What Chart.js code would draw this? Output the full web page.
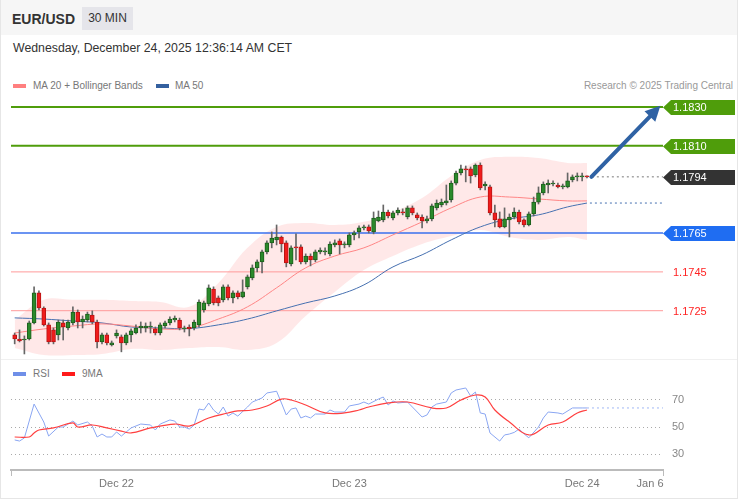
<!DOCTYPE html>
<html>
<head>
<meta charset="utf-8">
<script src="https://cdn.jsdelivr.net/npm/chart.js@4.4.1/dist/chart.umd.min.js"></script>
<style>
  body { margin: 0; background: #fff; font-family: "Liberation Sans", Arial, sans-serif; }
  #wrap { position: relative; width: 738px; height: 500px; overflow: hidden; background: #fff; }
  .abs { position: absolute; white-space: nowrap; }
  #head { left: 0; top: 0; width: 738px; height: 35px; background: #f6f6f6; }
  #pair { left: 12px; top: 12px; font-weight: bold; font-size: 14px; line-height: 14px; color: #333; }
  #tf { left: 82px; top: 7px; width: 51px; height: 23px; background: #e5e5ea; font-size: 12px; line-height: 23px; text-align: center; color: #333; }
  #date { left: 13px; top: 41px; font-size: 12.3px; line-height: 14px; color: #333; }
  .leg { font-size: 10px; line-height: 12px; color: #777; }
  .sw { position: absolute; width: 13px; height: 4px; }
  #sep { left: 0; top: 359px; width: 738px; height: 1px; background: #f0f0f0; }
  #frame { left: 0; top: 0; width: 738px; height: 499px; box-sizing: border-box; border: 1px solid #e6e6e6; border-top: none; pointer-events: none; }
  canvas { position: absolute; left: 0; }
</style>
</head>
<body>
<div id="wrap">
  <div id="head" class="abs"></div>
  <div id="pair" class="abs">EUR/USD</div>
  <div id="tf" class="abs">30 MIN</div>
  <div id="date" class="abs">Wednesday, December 24, 2025 12:36:14 AM CET</div>

  <div class="sw" style="left:13px;top:84px;background:#ff7f7f"></div>
  <div class="abs leg" style="left:33px;top:80px">MA 20 + Bollinger Bands</div>
  <div class="sw" style="left:156px;top:84px;background:#34609f"></div>
  <div class="abs leg" style="left:175px;top:80px">MA 50</div>
  <div class="abs leg" style="right:5px;top:80px;color:#999">Research © 2025 Trading Central</div>

  <canvas id="price" width="738" height="263" style="top:95px"></canvas>

  <div id="sep" class="abs"></div>
  <div class="sw" style="left:13px;top:372px;background:#6f8fe8"></div>
  <div class="abs leg" style="left:33px;top:368px">RSI</div>
  <div class="sw" style="left:62px;top:372px;background:#ff1a1a"></div>
  <div class="abs leg" style="left:82px;top:368px">9MA</div>

  <canvas id="rsi" width="738" height="112" style="top:385px"></canvas>
  <div id="frame" class="abs"></div>
</div>

<script>
// x axis is the candle index (30 min bars), padded on the right for the projection
const X_MIN = -0.76, X_MAX = 133.67;

const openP = [1.17125,1.17104,1.17099,1.17104,1.17187,1.17342,1.17264,1.17177,1.17151,1.17125,
  1.17187,1.17161,1.17187,1.17243,1.17192,1.17202,1.17228,1.17192,1.17089,1.17125,
  1.17074,1.17120,1.17115,1.17084,1.17125,1.17135,1.17161,1.17161,1.17166,1.17156,
  1.17135,1.17171,1.17187,1.17202,1.17202,1.17156,1.17166,1.17161,1.17177,1.17254,
  1.17285,1.17362,1.17316,1.17306,1.17373,1.17316,1.17342,1.17321,1.17373,1.17419,
  1.17471,1.17502,1.17553,1.17600,1.17615,1.17630,1.17600,1.17491,1.17579,1.17579,
  1.17502,1.17532,1.17512,1.17553,1.17553,1.17543,1.17589,1.17610,1.17589,1.17589,
  1.17641,1.17656,1.17677,1.17682,1.17656,1.17713,1.17718,1.17759,1.17728,1.17754,
  1.17759,1.17733,1.17780,1.17744,1.17733,1.17713,1.17723,1.17780,1.17795,1.17805,
  1.17821,1.17908,1.17960,1.17981,1.17981,1.17950,1.18001,1.17893,1.17888,1.17754,
  1.17723,1.17682,1.17718,1.17733,1.17759,1.17718,1.17692,1.17749,1.17810,1.17857,
  1.17898,1.17903,1.17898,1.17888,1.17888,1.17924,1.17940,1.17940,1.17945];
const highP = [1.17135,1.17151,1.17120,1.17197,1.17373,1.17352,1.17270,1.17187,1.17161,1.17202,
  1.17202,1.17202,1.17270,1.17254,1.17223,1.17243,1.17249,1.17202,1.17135,1.17135,
  1.17094,1.17151,1.17125,1.17135,1.17156,1.17177,1.17192,1.17187,1.17192,1.17166,
  1.17187,1.17197,1.17218,1.17223,1.17212,1.17171,1.17177,1.17202,1.17306,1.17300,
  1.17383,1.17373,1.17326,1.17383,1.17383,1.17352,1.17352,1.17409,1.17434,1.17486,
  1.17512,1.17563,1.17610,1.17656,1.17692,1.17635,1.17610,1.17584,1.17646,1.17589,
  1.17543,1.17543,1.17563,1.17574,1.17574,1.17605,1.17615,1.17620,1.17605,1.17651,
  1.17661,1.17687,1.17692,1.17692,1.17759,1.17764,1.17795,1.17769,1.17764,1.17780,
  1.17775,1.17790,1.17790,1.17754,1.17744,1.17738,1.17800,1.17821,1.17826,1.17898,
  1.17919,1.17970,1.18001,1.17996,1.17991,1.18007,1.18012,1.17914,1.17898,1.17795,
  1.17759,1.17780,1.17749,1.17780,1.17769,1.17723,1.17759,1.17836,1.17888,1.17914,
  1.17924,1.17919,1.17908,1.17903,1.17960,1.17950,1.17960,1.17960,1.17945];
const lowP = [1.17079,1.17089,1.17027,1.17099,1.17182,1.17254,1.17171,1.17079,1.17079,1.17099,
  1.17099,1.17151,1.17177,1.17161,1.17161,1.17192,1.17182,1.17058,1.17079,1.17074,
  1.17068,1.17109,1.17038,1.17074,1.17089,1.17130,1.17135,1.17140,1.17135,1.17125,
  1.17125,1.17161,1.17177,1.17192,1.17151,1.17140,1.17120,1.17151,1.17166,1.17243,
  1.17275,1.17280,1.17275,1.17295,1.17306,1.17290,1.17311,1.17316,1.17362,1.17409,
  1.17450,1.17445,1.17543,1.17574,1.17589,1.17553,1.17476,1.17481,1.17512,1.17491,
  1.17491,1.17481,1.17502,1.17543,1.17538,1.17532,1.17579,1.17543,1.17574,1.17579,
  1.17615,1.17625,1.17666,1.17651,1.17646,1.17708,1.17708,1.17728,1.17718,1.17744,
  1.17744,1.17723,1.17744,1.17718,1.17677,1.17702,1.17713,1.17769,1.17785,1.17795,
  1.17810,1.17898,1.17950,1.17914,1.17908,1.17940,1.17873,1.17873,1.17744,1.17682,
  1.17677,1.17677,1.17630,1.17723,1.17697,1.17682,1.17687,1.17738,1.17800,1.17847,
  1.17857,1.17893,1.17883,1.17878,1.17883,1.17914,1.17919,1.17919,1.17934];
const closeP = [1.17104,1.17094,1.17104,1.17187,1.17342,1.17264,1.17177,1.17089,1.17089,1.17192,
  1.17166,1.17192,1.17243,1.17192,1.17207,1.17233,1.17192,1.17089,1.17125,1.17084,
  1.17084,1.17135,1.17084,1.17125,1.17146,1.17161,1.17171,1.17171,1.17171,1.17135,
  1.17177,1.17187,1.17207,1.17212,1.17161,1.17161,1.17156,1.17192,1.17295,1.17290,
  1.17368,1.17290,1.17290,1.17373,1.17316,1.17342,1.17321,1.17347,1.17424,1.17471,
  1.17502,1.17553,1.17600,1.17625,1.17630,1.17594,1.17496,1.17574,1.17574,1.17502,
  1.17532,1.17512,1.17553,1.17563,1.17558,1.17594,1.17600,1.17589,1.17594,1.17641,
  1.17651,1.17677,1.17682,1.17661,1.17728,1.17733,1.17759,1.17738,1.17754,1.17769,
  1.17754,1.17780,1.17754,1.17728,1.17713,1.17723,1.17790,1.17805,1.17810,1.17816,
  1.17908,1.17960,1.17981,1.17976,1.17945,1.18001,1.17883,1.17903,1.17754,1.17718,
  1.17682,1.17723,1.17733,1.17759,1.17708,1.17692,1.17749,1.17810,1.17857,1.17903,
  1.17908,1.17908,1.17888,1.17893,1.17919,1.17940,1.17943,1.17945,1.17940];

// indicators every 6 bars
const maIdx = [0,6,12,18,24,30,36,42,48,54,60,66,72,78,84,90,96,102,108,114,118];
const ma20 = [1.17135,1.17156,1.17171,1.17182,1.17171,1.17156,1.17161,1.17207,1.17270,1.17368,
  1.17471,1.17532,1.17574,1.17641,1.17708,1.17780,1.17836,1.17836,1.17826,1.17816,1.17816];
const bbUpper = [1.17202,1.17306,1.17306,1.17306,1.17300,1.17295,1.17270,1.17393,1.17574,1.17682,
  1.17702,1.17692,1.17708,1.17759,1.17831,1.17945,1.18027,1.18043,1.18037,1.18012,1.18012];
const bbLower = [1.17058,1.17022,1.17022,1.17027,1.17053,1.17048,1.17058,1.17063,1.17048,1.17084,
  1.17223,1.17347,1.17460,1.17532,1.17594,1.17635,1.17666,1.17630,1.17615,1.17630,1.17615];
const ma50 = [1.17213,1.17207,1.17197,1.17187,1.17166,1.17161,1.17158,1.17177,1.17207,1.17249,
  1.17290,1.17326,1.17383,1.17476,1.17538,1.17615,1.17682,1.17723,1.17744,1.17785,1.17805];

const levels = [1.1830, 1.1810, 1.1765, 1.1745, 1.1725];
const lastPrice = 1.1794;
const arrowX = [118.9, 131.4];
const arrowY = [1.1794, 1.18262];

const rsiIdx = [0,1,2,4,6,7,9,10,12,13,15,16,17,18,19,20,21,22,23,24,26,28,29,30,32,33,34,35,36,37,
  38,39,40,41,42,43,44,45,46,48,49,51,52,54,55,56,57,58,59,60,61,62,64,65,66,68,69,71,72,73,
  75,76,77,78,79,81,82,83,84,85,86,87,89,90,91,93,94,95,96,97,98,100,101,102,103,104,105,106,108,109,
  110,112,113,115,117,118];
const rsiVal = [40.4,39.6,41.9,67,53.7,43.3,50,50,54.4,51.5,53.7,50.7,42.6,44.8,42.6,42.6,46.3,43.3,46.3,49.3,
  52.2,51.5,47.8,52.2,55.2,54.4,50,50,48.5,51.5,63.3,62.6,67.8,62.6,59.6,64.8,58.1,60.4,58.1,64.8,
  68.5,71.5,75.2,76.5,67.8,58.9,63.3,64.1,56.7,58.1,56.7,59.6,59.6,62.6,61.1,61.1,65.6,67,68.5,67,
  70.7,72.2,66.3,69.3,67.8,68.5,64.8,61.1,57.4,58.9,64.8,67,68.5,75.2,77.4,78.9,73,75.9,60.4,59.6,
  45.6,39.6,44.1,44.8,46,48.5,45,42,50,56.7,61.1,60.4,59.6,64.1,64.1,64.1];
const ma9Idx = [0,3,4,5,8,12,13,16,19,22,24,28,33,36,40,44,46,49,52,55,
  57,60,64,68,71,73,77,81,86,89,92,95,97,99,102,106,110,113,116,118];
const ma9Val = [42.6,42.6,45.6,47.8,49.3,53,50,51.5,49.3,47,45.6,49.3,52.2,50.7,56.7,60.4,61.9,62.6,65.6,70.7,
  70,66.3,60.4,60.4,62.6,64.8,67.8,68.5,64.1,64.1,70,73.7,72.2,62.6,53.7,44.1,51.5,53.7,60.4,62.6];

const dayTicks = [21, 69, 117, 131];
const dayLabels = ['Dec 22', 'Dec 23', 'Dec 24', 'Jan 6'];
const rsiTicks = [30, 50, 70];

// styles
const levelStyle = [
  { line: '#4f9d0b', width: 2, tag: '#4f9d0b' },
  { line: '#4f9d0b', width: 2, tag: '#4f9d0b' },
  { line: '#3a70ee', width: 1.5, tag: '#1f6df2' },
  { line: '#ff9a9a', width: 1, tag: null, text: '#ff2222' },
  { line: '#ff9a9a', width: 1, tag: null, text: '#ff2222' }
];
const FONT = '"Liberation Sans", Arial, sans-serif';
Chart.defaults.font.family = FONT;

const pts = (xs, ys) => xs.map((x, i) => ({ x: x, y: ys[i] }));
const flat = (x0, v) => [{ x: x0, y: v }, { x: X_MAX, y: v }];
const isUp = closeP.map((c, i) => c >= openP[i]);

const tagsPlugin = {
  id: 'tags',
  afterDraw(chart) {
    const ctx = chart.ctx, sy = chart.scales.y, r = chart.chartArea.right;
    const tags = levels.map((v, i) => ({ v: v, fill: levelStyle[i].tag, text: levelStyle[i].text }));
    tags.push({ v: lastPrice, fill: '#333333' });
    ctx.save();
    ctx.font = '11px ' + FONT;
    ctx.textBaseline = 'middle';
    tags.forEach(t => {
      const y = Math.round(sy.getPixelForValue(t.v)) + 0.5;
      if (t.fill) {
        ctx.fillStyle = t.fill;
        ctx.beginPath();
        ctx.moveTo(r, y);
        ctx.lineTo(r + 8, y - 7.5);
        ctx.lineTo(735, y - 7.5);
        ctx.lineTo(735, y + 7.5);
        ctx.lineTo(r + 8, y + 7.5);
        ctx.closePath();
        ctx.fill();
        ctx.fillStyle = '#fff';
      } else {
        ctx.fillStyle = t.text;
      }
      ctx.fillText(t.v.toFixed(4), r + 10, y);
    });
    ctx.restore();
  }
};

const arrowPlugin = {
  id: 'arrowHead',
  afterDatasetsDraw(chart) {
    const meta = chart.getDatasetMeta(chart.data.datasets.findIndex(d => d.label === 'arrow'));
    const a = meta.data[0], b = meta.data[1];
    const dx = b.x - a.x, dy = b.y - a.y, len = Math.hypot(dx, dy);
    const ux = dx / len, uy = dy / len, nx = -uy, ny = ux;
    const ctx = chart.ctx;
    ctx.save();
    ctx.fillStyle = '#2f62a4';
    ctx.beginPath();
    ctx.moveTo(b.x + ux * 12, b.y + uy * 12);
    ctx.lineTo(b.x - ux * 3 + nx * 7.5, b.y - uy * 3 + ny * 7.5);
    ctx.lineTo(b.x - ux * 3 - nx * 7.5, b.y - uy * 3 - ny * 7.5);
    ctx.closePath();
    ctx.fill();
    ctx.restore();
  }
};

const lineBase = { type: 'line', pointRadius: 0, fill: false };
const priceSets = [
  Object.assign({}, lineBase, { label: 'bbUp', data: pts(maIdx, bbUpper), borderWidth: 0, borderColor: 'rgba(0,0,0,0)',
    backgroundColor: 'rgba(255,90,90,0.14)', fill: '+1', tension: 0.4, order: 20 }),
  Object.assign({}, lineBase, { label: 'bbLow', data: pts(maIdx, bbLower), borderWidth: 0, borderColor: 'rgba(0,0,0,0)', tension: 0.4, order: 21 })
];
levels.forEach((v, i) => priceSets.push(Object.assign({}, lineBase, {
  label: 'lvl' + i, data: flat(X_MIN, v), borderColor: levelStyle[i].line, borderWidth: levelStyle[i].width, order: 15
})));
priceSets.push(
  Object.assign({}, lineBase, { label: 'last', data: flat(119, lastPrice), borderColor: '#777', borderWidth: 1, borderDash: [2, 3], order: 14 }),
  Object.assign({}, lineBase, { label: 'ma20', data: pts(maIdx, ma20), borderColor: '#ff8585', borderWidth: 1, tension: 0.4, order: 8 }),
  Object.assign({}, lineBase, { label: 'ma50', data: pts(maIdx, ma50), borderColor: '#4670b0', borderWidth: 1, tension: 0.4, order: 8 }),
  Object.assign({}, lineBase, { label: 'ma50x', data: flat(maIdx[maIdx.length - 1] + 0.6, ma50[ma50.length - 1]), borderColor: '#4670b0', borderWidth: 1, borderDash: [2, 3], order: 8 }),
  { type: 'bar', label: 'wick', data: openP.map((_, i) => ({ x: i, y: [lowP[i], highP[i]] })),
    backgroundColor: '#666', barThickness: 1, grouped: false, order: 3 },
  { type: 'bar', label: 'body', data: openP.map((o, i) => ({ x: i, y: [o, closeP[i]] })),
    backgroundColor: isUp.map(u => u ? '#2b8a2b' : '#f01c1c'),
    borderColor: isUp.map(u => u ? '#1d5e1d' : '#b81414'),
    borderWidth: 1, borderSkipped: false, minBarLength: 1, barThickness: 4, grouped: false, order: 2 },
  Object.assign({}, lineBase, { label: 'arrow', data: pts(arrowX, arrowY), borderColor: '#2f62a4', borderWidth: 4, borderCapStyle: 'round', order: 1 })
);

new Chart(document.getElementById('price').getContext('2d'), {
  type: 'bar',
  data: { datasets: priceSets },
  options: {
    responsive: false,
    animation: false,
    layout: { padding: { left: 11, right: 75, top: 0, bottom: 0 } },
    plugins: { legend: { display: false }, tooltip: { enabled: false } },
    scales: {
      x: { type: 'linear', min: X_MIN, max: X_MAX, offset: false, display: false },
      y: { type: 'linear', min: 1.170062, max: 1.183619, display: false }
    }
  },
  plugins: [tagsPlugin, arrowPlugin]
});

new Chart(document.getElementById('rsi').getContext('2d'), {
  type: 'line',
  data: {
    datasets: [
      Object.assign({}, lineBase, { label: 'RSI', data: pts(rsiIdx, rsiVal), borderColor: '#8aa6f2', borderWidth: 1, order: 2 }),
      Object.assign({}, lineBase, { label: '9MA', data: pts(ma9Idx, ma9Val), borderColor: '#ff4040', borderWidth: 1.2, tension: 0.4, order: 1 }),
      Object.assign({}, lineBase, { label: 'rsix', data: flat(rsiIdx[rsiIdx.length - 1], rsiVal[rsiVal.length - 1]), borderColor: '#9fb6f5', borderWidth: 1, borderDash: [2, 3], order: 3 })
    ]
  },
  options: {
    responsive: false,
    animation: false,
    layout: { padding: { left: 11, right: 0, top: 0, bottom: 0 } },
    plugins: { legend: { display: false }, tooltip: { enabled: false } },
    scales: {
      x: {
        type: 'linear', min: X_MIN, max: X_MAX, offset: false,
        afterBuildTicks: s => { s.ticks = [X_MIN].concat(dayTicks, [X_MAX]).map(v => ({ value: v })); },
        afterFit: s => { s.height = 27; s.paddingLeft = 0; s.paddingRight = 0; },
        ticks: {
          autoSkip: false, maxRotation: 0, padding: 1, color: '#777', font: { size: 11 },
          callback: v => { const k = dayTicks.indexOf(v); return k < 0 ? '' : dayLabels[k]; }
        },
        grid: {
          drawOnChartArea: false, drawTicks: true, tickLength: 6, lineWidth: 1,
          color: c => (c.tick && (c.tick.value === X_MIN || c.tick.value === X_MAX)) ? '#bbb' : 'rgba(0,0,0,0)'
        },
        border: { display: true, color: '#bbb', width: 2 }
      },
      y: {
        type: 'linear', position: 'right', min: 18.15, max: 81.11,
        afterBuildTicks: s => { s.ticks = rsiTicks.map(v => ({ value: v })); },
        afterFit: s => { s.width = 75; s.paddingTop = 0; s.paddingBottom = 0; },
        ticks: { padding: 9, color: '#888', font: { size: 11 } },
        grid: { color: '#aaa', lineWidth: 1, drawTicks: false },
        border: { display: false, dash: [1, 3] }
      }
    }
  }
});
</script>
</body>
</html>
